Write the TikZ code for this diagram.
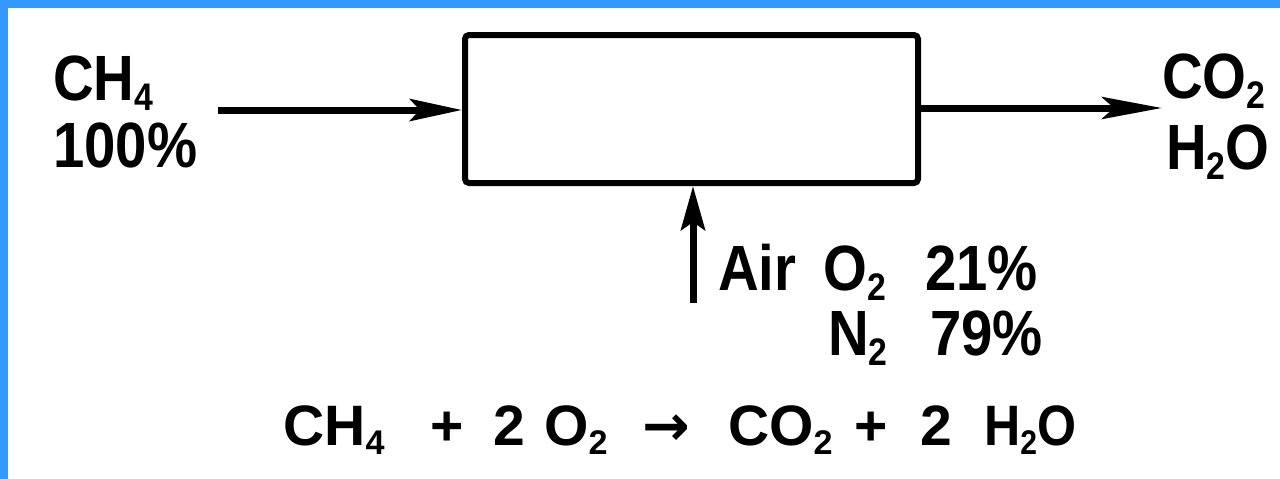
\documentclass[tikz,border=0pt]{standalone}
\usepackage{fontspec}
\usepackage{graphicx}
\setmainfont{Liberation Sans}
\newfontfamily\arrfont{DejaVu Sans}
\usetikzlibrary{arrows.meta}
\definecolor{frameblue}{RGB}{51,153,255}
\newcommand{\sbs}[1]{\raisebox{-0.17em}{\fontsize{0.6em}{0.6em}\selectfont #1}}
\newcommand{\tk}[1]{\scalebox{0.88}[1]{#1}}
\newcommand{\lblfont}{\fontsize{64}{64}\selectfont\bfseries}
\newcommand{\eqfont}{\fontsize{57}{57}\selectfont\bfseries}
\tikzset{
  lbl/.style={anchor=base west, inner sep=0pt, font=\lblfont},
  flow/.style={line width=7pt, -{Stealth[length=52pt,width=22pt,inset=10pt]}},
  reactor/.style={draw, line width=6pt, rounded corners=4pt, minimum width=453pt, minimum height=148pt, inner sep=0pt}
}
\begin{document}
\begin{tikzpicture}[x=1pt,y=-1pt]
\useasboundingbox (0,0) rectangle (1280,479);
\fill[white] (0,0) rectangle (1280,479);
\fill[frameblue] (0,0) rectangle (1280,8);
\fill[frameblue] (0,0) rectangle (8,479);

\node[reactor] (box) at (691.5,109) {};

\node[lbl] (ch4) at (53,100) {\tk{CH\sbs{4}}};
\node[lbl] (pct) at (53,167) {\tk{100\%}};
\node[lbl] (co2) at (1162,98) {\tk{CO\sbs{2}}};
\node[lbl] (h2o) at (1166,169) {\tk{H\sbs{2}O}};
\node[lbl] (air) at (718,290) {\makebox[105pt][l]{\tk{Air}}\makebox[102pt][l]{\tk{O\sbs{2}}}\tk{21\%}};
\node[lbl] (n2) at (828,355) {\makebox[102pt][l]{\tk{N\sbs{2}}}\tk{79\%}};
\node[lbl, font=\eqfont] (eq) at (283,445)
  {\makebox[147pt][l]{CH\sbs{4}}\makebox[63pt][l]{+}\makebox[51pt][l]{2}\makebox[98pt][l]{O\sbs{2}}\makebox[86pt][l]{\arrfont →}\makebox[126pt][l]{CO\sbs{2}}\makebox[66pt][l]{+}\makebox[64pt][l]{2}\tk{H\sbs{2}O}};

\coordinate (inL) at (218,110);
\coordinate (outR) at (1162,108);
\coordinate (inB) at (693,303);

\draw[flow] (inL) -- (inL -| box.west);
\draw[flow, -{Stealth[length=60pt,width=22pt,inset=12pt]}] (outR -| box.east) -- (outR);
\draw[flow, -{Stealth[length=44pt,width=24pt,inset=8pt]}] (inB) -- (inB |- box.south);
\end{tikzpicture}
\end{document}
